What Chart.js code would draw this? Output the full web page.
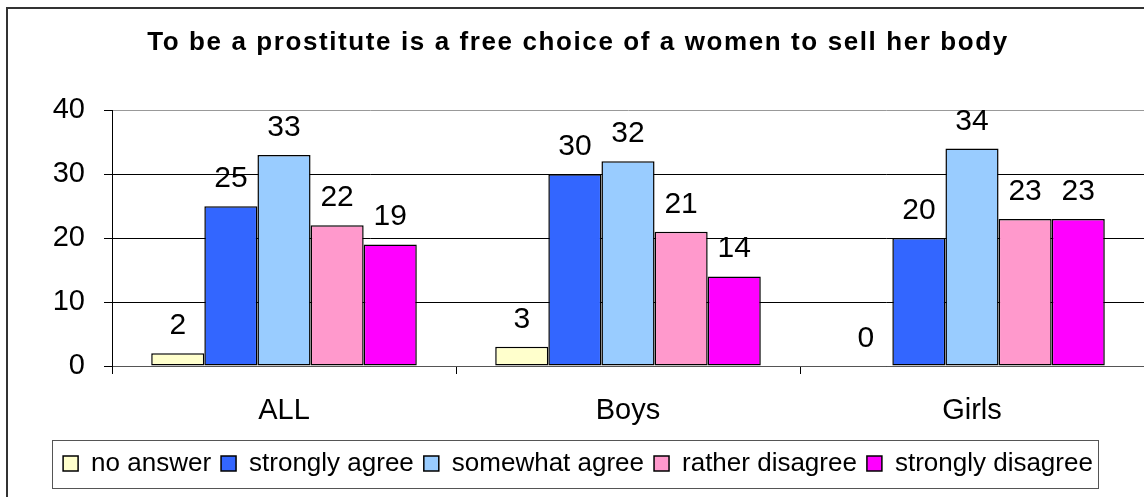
<!DOCTYPE html>
<html>
<head>
<meta charset="utf-8">
<script src="https://cdn.jsdelivr.net/npm/chart.js@4"></script>
<style>
  html, body { margin: 0; padding: 0; background: #fff; }
  #wrap { width: 1144px; height: 497px; }
</style>
</head>
<body>
<div id="wrap"><canvas id="grafico" width="1144" height="497"></canvas></div>
<script>
// dados
const categorias = ['ALL', 'Boys', 'Girls'];
const noAnswer = [2, 3, 0];
const stronglyAgree = [25, 30, 20];
const somewhatAgree = [33, 32, 34];
const ratherDisagree = [22, 21, 23];
const stronglyDisagree = [19, 14, 23];
const yTicks = [0, 10, 20, 30, 40];

const fonte = "'Liberation Sans', Arial, sans-serif";

// título com espaçamento entre letras
const tituloEspacado = {
    id: 'tituloEspacado',
    beforeDraw(chart) {
        const blk = chart.titleBlock;
        if (blk && !blk._espacado) {
            const original = blk.draw.bind(blk);
            blk.draw = function () {
                const c = chart.ctx;
                c.save();
                c.letterSpacing = '1.6px';
                original();
                c.restore();
            };
            blk._espacado = true;
        }
    }
};

// moldura externa e caixa da legenda
const molduras = {
    id: 'molduras',
    beforeDraw(chart) {
        const ctx = chart.ctx;
        ctx.save();
        ctx.fillStyle = '#fff';
        ctx.fillRect(0, 0, chart.width, chart.height);
        ctx.strokeStyle = '#333';
        ctx.lineWidth = 2;
        ctx.strokeRect(7, 8, chart.width + 10, chart.height + 10);
        ctx.restore();
    },
    afterDraw(chart) {
        const lg = chart.legend;
        if (!lg || !lg.legendHitBoxes.length) return;
        const boxes = lg.legendHitBoxes;
        const left = Math.min(...boxes.map(b => b.left));
        const right = Math.max(...boxes.map(b => b.left + b.width));
        const top = Math.min(...boxes.map(b => b.top));
        const bottom = Math.max(...boxes.map(b => b.top + b.height));
        const ctx = chart.ctx;
        ctx.save();
        ctx.strokeStyle = '#555';
        ctx.lineWidth = 1;
        ctx.strokeRect(Math.round(left - 11) + 0.5, Math.round(top - 11) + 0.5,
            Math.round(right - left + 16), Math.round(bottom - top + 22));
        ctx.restore();
    }
};

// valores acima das barras
const rotulos = {
    id: 'rotulos',
    afterDatasetsDraw(chart) {
        const ctx = chart.ctx;
        ctx.save();
        ctx.font = '30px ' + fonte;
        ctx.fillStyle = '#000';
        ctx.textAlign = 'center';
        ctx.textBaseline = 'alphabetic';
        chart.data.datasets.forEach((ds, i) => {
            chart.getDatasetMeta(i).data.forEach((bar, j) => {
                ctx.fillText(String(ds.data[j]), bar.x, bar.y - 19);
            });
        });
        ctx.restore();
    }
};

const ctx = document.getElementById('grafico').getContext('2d');
new Chart(ctx, {
    type: 'bar',
    data: {
        labels: categorias,
        datasets: [
            { label: 'no answer', data: noAnswer, backgroundColor: '#FFFFCC' },
            { label: 'strongly agree', data: stronglyAgree, backgroundColor: '#3366FF' },
            { label: 'somewhat agree', data: somewhatAgree, backgroundColor: '#99CCFF' },
            { label: 'rather disagree', data: ratherDisagree, backgroundColor: '#FF99CC' },
            { label: 'strongly disagree', data: stronglyDisagree, backgroundColor: '#FF00FF' }
        ]
    },
    options: {
        responsive: false,
        animation: false,
        layout: { padding: { left: 12, right: 0, top: 0, bottom: 10.5 } },
        datasets: {
            bar: {
                categoryPercentage: 0.772,
                barPercentage: 1,
                borderColor: '#000',
                borderWidth: 1.5,
                borderSkipped: false
            }
        },
        scales: {
            x: {
                grid: {
                    offset: true,
                    drawOnChartArea: false,
                    drawTicks: true,
                    tickLength: 8,
                    color: '#000'
                },
                border: { display: true, color: '#555', width: 1 },
                ticks: { color: '#000', font: { family: fonte, size: 29 }, padding: 19.5 },
                afterFit(scale) { scale.height = 74.5; }
            },
            y: {
                min: 0,
                max: 40,
                afterBuildTicks(scale) { scale.ticks = yTicks.map(v => ({ value: v })); },
                grid: {
                    color: c => (c.tick && c.tick.value === 40 ? '#999' : '#000'),
                    tickColor: '#000',
                    tickLength: 8,
                    lineWidth: 1
                },
                border: { display: true, color: '#000', width: 1 },
                ticks: { color: '#000', font: { family: fonte, size: 29 }, padding: 19 },
                afterFit(scale) { scale.width = 100; }
            }
        },
        plugins: {
            title: {
                display: true,
                text: 'To be a prostitute is a free choice of a women to sell her body',
                color: '#000',
                font: { family: fonte, size: 26, weight: 'bold' },
                padding: { top: 27, bottom: 52 }
            },
            legend: {
                display: true,
                position: 'bottom',
                labels: {
                    color: '#000',
                    font: { family: fonte, size: 26 },
                    boxWidth: 15,
                    boxHeight: 15,
                    padding: 10
                }
            },
            tooltip: { enabled: false }
        }
    },
    plugins: [tituloEspacado, molduras, rotulos]
});
</script>
</body>
</html>
